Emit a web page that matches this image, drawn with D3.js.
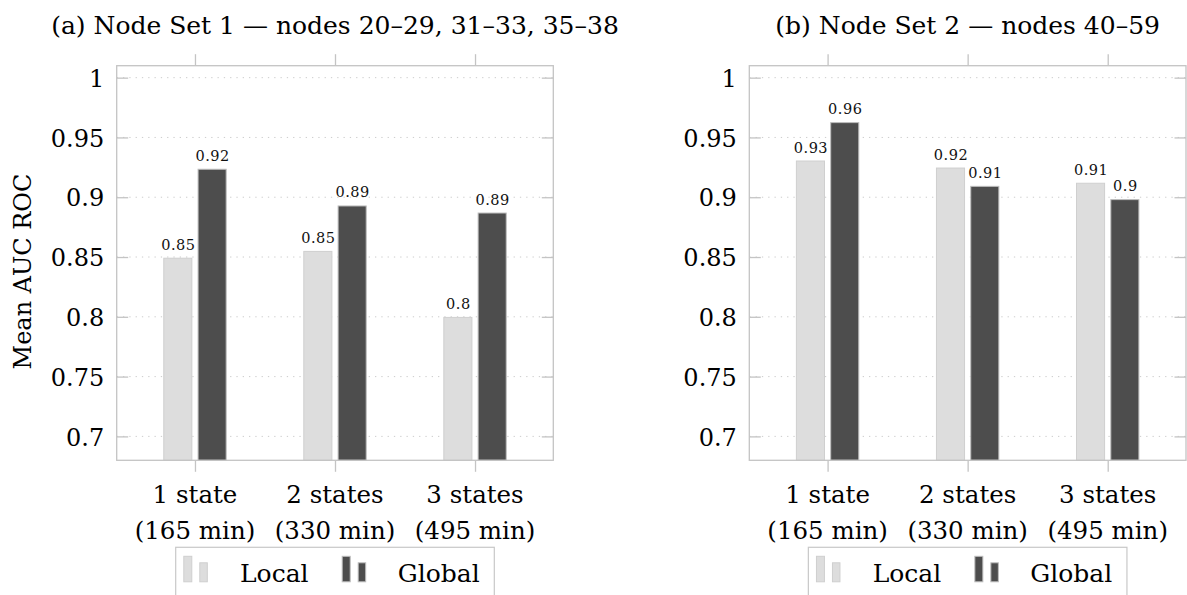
<!DOCTYPE html>
<html>
<head>
<meta charset="utf-8">
<script src="https://cdn.jsdelivr.net/npm/d3@7"></script>
<style>
  body { margin: 0; background: #fff; }
</style>
</head>
<body>
<svg id="chart" width="1187" height="595"></svg>
<script>
// categories (two lines each)
const catLine1 = ["1 state", "2 states", "3 states"];
const catLine2 = ["(165 min)", "(330 min)", "(495 min)"];
const seriesNames = ["Local", "Global"];
const panelTitles = ["(a) Node Set 1 \u2014 nodes 20\u201329, 31\u201333, 35\u201338",
                     "(b) Node Set 2 \u2014 nodes 40\u201359"];

// mean AUC ROC
const set1Local  = [0.849, 0.8547, 0.7995];
const set1Global = [0.9234, 0.8927, 0.8868];
const set2Local  = [0.9303, 0.9244, 0.9117];
const set2Global = [0.9624, 0.9091, 0.898];

const yTicks = [0.7, 0.75, 0.8, 0.85, 0.9, 0.95, 1];
const yDomain = [0.68, 1.01];

const fills = { Local: "#dddddd", Global: "#4d4d4d" };
const strokes = { Local: "#cfcfcf", Global: "#bdbdbd" };
const frameCol = "#c4c4c4";
const serif = "'DejaVu Serif', serif";

const svg = d3.select("#chart");

const panels = [
  { title: panelTitles[0], local: set1Local, global: set1Global, x0: 116.7, x1: 553.3, ylabel: true },
  { title: panelTitles[1], local: set2Local, global: set2Global, x0: 749.3, x1: 1186, ylabel: false }
];

const plotTop = 65.7, plotBottom = 460.3;
const y = d3.scaleLinear().domain(yDomain).range([plotBottom, plotTop]);
const fmt = d3.format(".2~f");

panels.forEach(p => {
  const g = svg.append("g");
  const x = d3.scalePoint().domain(catLine1).range([p.x0, p.x1]).padding(0.559);
  const xs = d3.scaleBand().domain(seriesNames).range([-31.7, 31.7]).paddingInner(0.152);

  // dotted grid
  g.append("g").selectAll("line").data(yTicks).enter().append("line")
    .attr("x1", p.x0).attr("x2", p.x1)
    .attr("y1", d => y(d)).attr("y2", d => y(d))
    .attr("stroke", "#cccccc").attr("stroke-width", 1)
    .attr("stroke-dasharray", "1.3,5");

  // bars
  const rows = catLine1.map((c, i) => ({ cat: c, Local: p.local[i], Global: p.global[i] }));
  const grp = g.selectAll("g.grp").data(rows).enter().append("g").attr("class", "grp")
    .attr("transform", d => "translate(" + x(d.cat) + ",0)");
  grp.selectAll("rect").data(d => seriesNames.map(s => ({ s: s, v: d[s] }))).enter().append("rect")
    .attr("x", d => xs(d.s) + 0.5)
    .attr("width", xs.bandwidth() - 1)
    .attr("y", d => y(d.v))
    .attr("height", d => plotBottom - y(d.v))
    .attr("fill", d => fills[d.s])
    .attr("stroke", d => strokes[d.s])
    .attr("stroke-width", 1);
  grp.selectAll("text").data(d => seriesNames.map(s => ({ s: s, v: d[s] }))).enter().append("text")
    .attr("x", d => xs(d.s) + xs.bandwidth() / 2 + 0.5)
    .attr("y", d => y(d.v) - 8.5)
    .attr("text-anchor", "middle")
    .style("font-family", serif)
    .attr("font-size", 14.5)
    .attr("letter-spacing", 0.5)
    .attr("fill", "#111")
    .text(d => fmt(d.v));

  // frame
  g.append("rect").attr("x", p.x0).attr("y", plotTop)
    .attr("width", p.x1 - p.x0).attr("height", plotBottom - plotTop)
    .attr("fill", "none").attr("stroke", frameCol).attr("stroke-width", 1.3);

  // y axis: inward ticks, labels outside
  const yl = g.append("g").attr("transform", "translate(" + p.x0 + ",0)")
    .call(d3.axisLeft(y).tickValues(yTicks).tickFormat(d3.format("~g")).tickSize(-11.5).tickPadding(12.5));
  const yr = g.append("g").attr("transform", "translate(" + p.x1 + ",0)")
    .call(d3.axisRight(y).tickValues(yTicks).tickFormat("").tickSize(-11.5));
  [yl, yr].forEach(a => {
    a.select(".domain").remove();
    a.selectAll(".tick line").attr("stroke", frameCol).attr("stroke-width", 1.3);
  });
  yl.selectAll(".tick text").style("font-family", serif).attr("font-size", 24).attr("fill", "#000")
    .attr("dy", "0.36em");

  // x axis: outward ticks on bottom and top
  const xb = g.append("g").attr("transform", "translate(0," + plotBottom + ")")
    .call(d3.axisBottom(x).tickSize(11.5).tickFormat(""));
  const xt = g.append("g").attr("transform", "translate(0," + plotTop + ")")
    .call(d3.axisTop(x).tickSize(11.5).tickFormat(""));
  [xb, xt].forEach(a => {
    a.select(".domain").remove();
    a.selectAll(".tick line").attr("stroke", frameCol).attr("stroke-width", 1.3);
  });

  // two-line category labels
  const lab = g.selectAll("text.cat").data(catLine1).enter().append("text").attr("class", "cat")
    .style("font-family", serif).attr("text-anchor", "middle").attr("font-size", 24.5);
  lab.append("tspan").attr("x", d => x(d)).attr("y", 503).text(d => d);
  lab.append("tspan").attr("x", d => x(d)).attr("y", 538.5).text((d, i) => catLine2[i]);

  // title
  g.append("text").attr("x", (p.x0 + p.x1) / 2).attr("y", 34)
    .style("font-family", serif).attr("text-anchor", "middle").attr("font-size", 25).text(p.title);

  // legend
  const cx = (p.x0 + p.x1) / 2;
  const lg = g.append("g").attr("transform", "translate(" + (cx - 159.3) + ",547.3)");
  lg.append("rect").attr("width", 318.6).attr("height", 70)
    .attr("fill", "#fff").attr("stroke", "#c8c8c8").attr("stroke-width", 1.2);
  const items = [{ s: "Local", ix: 7.6, tx: 64.3 }, { s: "Global", ix: 166, tx: 222 }];
  items.forEach(it => {
    lg.append("rect").attr("x", it.ix + 0.5).attr("y", 9).attr("width", 8).attr("height", 25.5)
      .attr("fill", fills[it.s]).attr("stroke", strokes[it.s]);
    lg.append("rect").attr("x", it.ix + 16.5).attr("y", 15.5).attr("width", 7.5).attr("height", 19)
      .attr("fill", fills[it.s]).attr("stroke", strokes[it.s]);
    lg.append("text").attr("x", it.tx).attr("y", 34.4).style("font-family", serif)
      .attr("font-size", 25).text(it.s);
  });

  // y axis title
  if (p.ylabel) {
    g.append("text").attr("transform", "translate(31,271.5) rotate(-90)")
      .style("font-family", serif).attr("text-anchor", "middle").attr("font-size", 24).text("Mean AUC ROC");
  }
});
</script>
</body>
</html>
